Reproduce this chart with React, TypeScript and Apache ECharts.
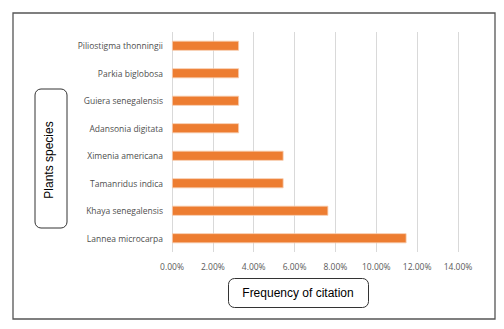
import React, { useEffect, useRef } from "react";
import * as echarts from "echarts";

const categories = [
  "Piliostigma thonningii",
  "Parkia biglobosa",
  "Guiera senegalensis",
  "Adansonia digitata",
  "Ximenia americana",
  "Tamanridus indica",
  "Khaya senegalensis",
  "Lannea microcarpa",
];
const frequencies = [3.28, 3.28, 3.28, 3.28, 5.46, 5.46, 7.65, 11.48];
const xTitle = "Frequency of citation";
const yTitle = "Plants species";

export default function App() {
  const ref = useRef<HTMLDivElement>(null);
  useEffect(() => {
    if (!ref.current) return;
    const chart = echarts.init(ref.current, undefined, { renderer: "svg" });
    const labelFont = "'Open Sans', 'Noto Sans', sans-serif";
    chart.setOption({
      animation: false,
      backgroundColor: "#ffffff",
      grid: { left: 172, right: 46, top: 32, bottom: 77, containLabel: false },
      xAxis: {
        type: "value",
        min: 0,
        max: 14,
        interval: 2,
        axisLine: { show: false },
        axisTick: { show: false },
        splitLine: { show: true, lineStyle: { color: "#d9d9d9", width: 1 } },
        axisLabel: {
          formatter: (v: number) => v.toFixed(2) + "%",
          color: "#595959",
          fontSize: 8.5,
          fontFamily: labelFont,
          margin: 10,
        },
      },
      yAxis: {
        type: "category",
        data: categories,
        inverse: true,
        axisLine: { show: false },
        axisTick: { show: false },
        axisLabel: {
          color: "#4f4f4f",
          fontSize: 8.5,
          fontFamily: labelFont,
          margin: 9,
        },
      },
      series: [
        {
          type: "bar",
          data: frequencies,
          barWidth: 10,
          itemStyle: { color: "#ED7D31", borderColor: "#F8CBAD", borderWidth: 0.8 },
        },
      ],
      graphic: [
        {
          type: "rect",
          shape: { x: 13, y: 13, width: 482, height: 306 },
          style: { fill: "none", stroke: "#555555", lineWidth: 1.3 },
          silent: true,
        },
        {
          type: "rect",
          shape: { x: 35, y: 89, width: 32, height: 139, r: 6 },
          style: { fill: "#ffffff", stroke: "#333333", lineWidth: 1 },
        },
        {
          type: "text",
          x: 49,
          y: 160,
          rotation: Math.PI / 2,
          style: {
            text: yTitle,
            fill: "#000000",
            font: "12px 'Liberation Sans', Arial, sans-serif",
            align: "center",
            verticalAlign: "middle",
          },
        },
        {
          type: "rect",
          shape: { x: 228.5, y: 278.5, width: 140, height: 29, r: 6 },
          style: { fill: "#ffffff", stroke: "#333333", lineWidth: 1 },
        },
        {
          type: "text",
          x: 298,
          y: 292.5,
          style: {
            text: xTitle,
            fill: "#000000",
            font: "12px 'Liberation Sans', Arial, sans-serif",
            align: "center",
            verticalAlign: "middle",
          },
        },
      ],
    });
    return () => chart.dispose();
  }, []);
  return (
    <div
      ref={ref}
      style={{ position: "fixed", left: 0, top: 0, width: 504, height: 329 }}
    />
  );
}
